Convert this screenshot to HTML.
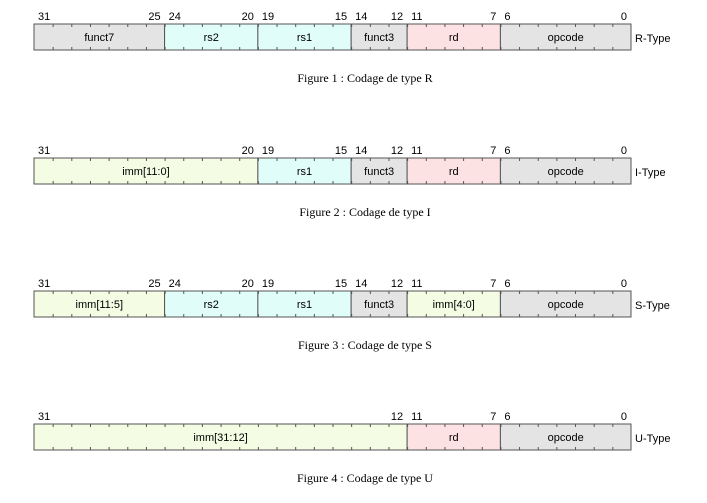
<!DOCTYPE html>
<html><head><meta charset="utf-8"><style>
body{margin:0;background:#fff;width:707px;height:503px;overflow:hidden;position:relative;font-family:"Liberation Sans",Arial,sans-serif}
svg{position:absolute;left:0;top:0}
</style></head><body>
<svg id="s" width="707" height="503" xmlns="http://www.w3.org/2000/svg"></svg>
<script>
const rowTops=[24,158,291,424];
const rowTypes=["R-Type","I-Type","S-Type","U-Type"];
const captions=["Figure 1 : Codage de type R","Figure 2 : Codage de type I","Figure 3 : Codage de type S","Figure 4 : Codage de type U"];
const rowFields=[
 [[31,25,"funct7","g"],[24,20,"rs2","c"],[19,15,"rs1","c"],[14,12,"funct3","g"],[11,7,"rd","p"],[6,0,"opcode","g"]],
 [[31,20,"imm[11:0]","y"],[19,15,"rs1","c"],[14,12,"funct3","g"],[11,7,"rd","p"],[6,0,"opcode","g"]],
 [[31,25,"imm[11:5]","y"],[24,20,"rs2","c"],[19,15,"rs1","c"],[14,12,"funct3","g"],[11,7,"imm[4:0]","y"],[6,0,"opcode","g"]],
 [[31,12,"imm[31:12]","y"],[11,7,"rd","p"],[6,0,"opcode","g"]]
];
const colors={g:"#e4e4e4",c:"#e1fdf9",p:"#fde2e3",y:"#f4fce4"};
const X0=34,X1=631,H=26,bw=(X1-X0)/32;
const bx=b=>X0+(31-b)*bw;
const s=document.getElementById('s');
const NS="http://www.w3.org/2000/svg";
function mk(t,a,txt){const e=document.createElementNS(NS,t);for(const k in a)e.setAttribute(k,a[k]);if(txt!=null)e.textContent=txt;s.appendChild(e);return e;}
rowFields.forEach((fields,r)=>{
 const y=rowTops[r];
 fields.forEach(f=>{
  const x=bx(f[0]),w=bx(f[1]-1)-x;
  const rc=mk('rect',{x:x,y:y,width:w,height:H,fill:colors[f[3]],stroke:"#555","stroke-width":1});
  
  
  const t=mk('text',{x:x+w/2,y:y+17,"font-size":11,"text-anchor":"middle",fill:"#000"},f[2]);
  
  
  const hl=mk('text',{x:x+4,y:y-4,"font-size":11,fill:"#000"},String(f[0]));
  
  
  if(f[1]!==f[0]){
   const ll=mk('text',{x:x+w-4,y:y-4,"font-size":11,"text-anchor":"end",fill:"#000"},String(f[1]));
   
   
  }
 });
 for(let b=30;b>=0;b--){
  const x=bx(b)+0.5;
  mk('line',{x1:x,y1:y,x2:x,y2:y+3,stroke:"#555"});
  mk('line',{x1:x,y1:y+H-3,x2:x,y2:y+H,stroke:"#555"});
 }
 const tt=mk('text',{x:X1+4,y:y+18,"font-size":11,fill:"#000"},rowTypes[r]);
 
 
 const c=mk('text',{x:365,y:y+58,"font-size":12,"text-anchor":"middle","font-family":"Liberation Serif, serif",fill:"#000"},captions[r]);
 
 
});
</script>
</body></html>
